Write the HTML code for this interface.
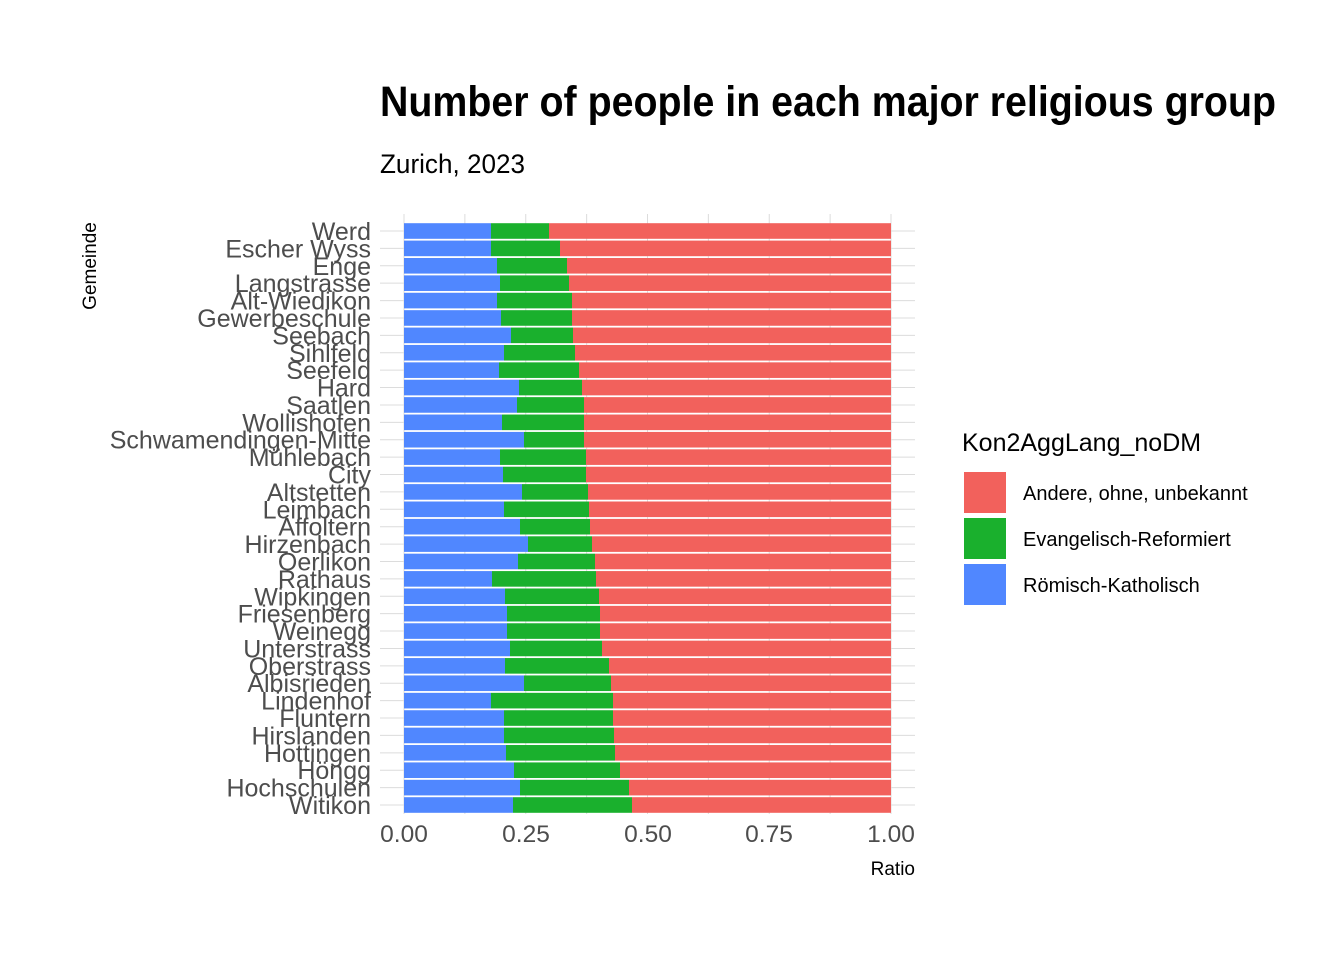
<!DOCTYPE html>
<html><head><meta charset="utf-8"><style>body{margin:0;background:#fff}svg{display:block}text{font-family:"Liberation Sans Narrow","Liberation Sans",sans-serif}</style></head><body>
<svg width="1344" height="960" xmlns="http://www.w3.org/2000/svg">
<text x="380" y="116" font-size="43" font-weight="bold" fill="#000" textLength="896" lengthAdjust="spacingAndGlyphs">Number of people in each major religious group</text>
<text x="380" y="173" font-size="27" fill="#000" textLength="145" lengthAdjust="spacingAndGlyphs">Zurich, 2023</text>
<g id="grid" stroke="#dcdcdc" stroke-width="1"></g>
<g id="bars"></g>
<g id="ylab" font-size="25" fill="#4d4d4d" text-anchor="end"></g>
<g font-size="24.5" fill="#4d4d4d" text-anchor="middle">
<text x="404" y="842">0.00</text><text x="526" y="842">0.25</text><text x="648" y="842">0.50</text><text x="769" y="842">0.75</text><text x="891" y="842">1.00</text>
</g>
<text x="915" y="875" font-size="19" text-anchor="end" fill="#000">Ratio</text>
<text transform="translate(96,266) rotate(-90)" font-size="19" text-anchor="middle" fill="#000">Gemeinde</text>
<text x="962" y="451" font-size="25" fill="#000">Kon2AggLang_noDM</text>
<rect x="964" y="472" width="42" height="41" fill="#f2615c"/>
<rect x="964" y="518" width="42" height="41" fill="#1ab02d"/>
<rect x="964" y="564" width="42" height="41" fill="#5087ff"/>
<text x="1023" y="500" font-size="20" fill="#000">Andere, ohne, unbekannt</text>
<text x="1023" y="546" font-size="20" fill="#000">Evangelisch-Reformiert</text>
<text x="1023" y="592" font-size="20" fill="#000">Römisch-Katholisch</text>
</svg>
<script>
const d=[["Werd",491,549],["Escher Wyss",491,560],["Enge",497,567],["Langstrasse",500,569],["Alt-Wiedikon",497,572],["Gewerbeschule",501,572],["Seebach",511,573],["Sihlfeld",504,575],["Seefeld",499,579],["Hard",519,582],["Saatlen",517,584],["Wollishofen",502,584],["Schwamendingen-Mitte",524,584],["Mühlebach",500,586],["City",503,586],["Altstetten",522,588],["Leimbach",504,589],["Affoltern",520,590],["Hirzenbach",528,592],["Oerlikon",518,595],["Rathaus",492,596],["Wipkingen",505,599],["Friesenberg",507,600],["Weinegg",507,600],["Unterstrass",510,602],["Oberstrass",505,609],["Albisrieden",524,611],["Lindenhof",491,613],["Fluntern",504,613],["Hirslanden",504,614],["Hottingen",506,615],["Höngg",514,620],["Hochschulen",520,629],["Witikon",513,632]];
const ns="http://www.w3.org/2000/svg";
function el(p,t,a,txt){const e=document.createElementNS(ns,t);for(const k in a)e.setAttribute(k,a[k]);if(txt)e.textContent=txt;p.appendChild(e);}
const g=document.getElementById("grid"),b=document.getElementById("bars"),y=document.getElementById("ylab");
for(let i=0;i<=8;i++){const x=404+i*60.875;el(g,"line",{x1:x,x2:x,y1:214,y2:814});}
d.forEach((r,i)=>{const c=231+i*17.394;el(g,"line",{x1:380,x2:915,y1:c,y2:c});
el(b,"rect",{x:404,y:c-7.8,width:r[1]-404,height:15.6,fill:"#5087ff"});
el(b,"rect",{x:r[1],y:c-7.8,width:r[2]-r[1],height:15.6,fill:"#1ab02d"});
el(b,"rect",{x:r[2],y:c-7.8,width:891-r[2],height:15.6,fill:"#f2615c"});
el(y,"text",{x:371,y:c+9},r[0]);});
</script>
</body></html>
